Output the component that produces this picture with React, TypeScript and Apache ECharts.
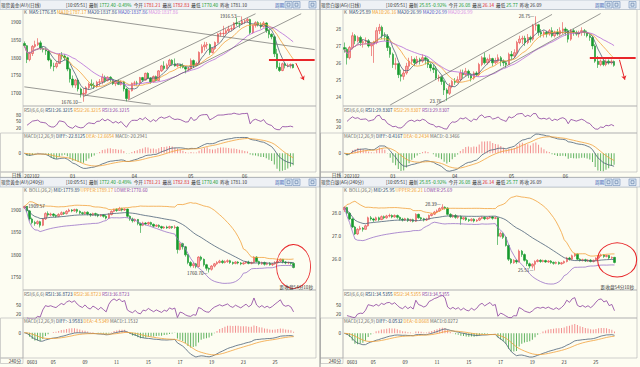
import { useEffect, useRef } from 'react';
import * as echarts from 'echarts';

const FF = '"Noto Sans CJK SC","Noto Sans",sans-serif';
const FS = 4.6;

// ---------- DATA: [open, close, low, high] ----------
const goldDaily = [
[1840,1834,1830,1846],[1834,1795,1785,1836],[1795,1812,1790,1817],[1812,1832,1805,1836],[1832,1837,1828,1848],
[1837,1842,1833,1855],[1842,1826,1822,1848],[1826,1823,1815,1830],[1823,1819,1808,1828],[1819,1794,1790,1822],
[1794,1776,1769,1798],[1776,1775,1762,1786],[1775,1784,1770,1790],[1784,1808,1782,1813],[1808,1805,1795,1816],
[1805,1800,1792,1810],[1800,1768,1762,1803],[1768,1740,1730,1772],[1740,1723,1716,1750],[1723,1737,1715,1740],
[1737,1712,1705,1742],[1712,1698,1688,1716],[1698,1700,1676.1,1714],[1700,1716,1695,1720],[1716,1726,1710,1730],
[1726,1722,1715,1739],[1722,1719,1712,1730],[1719,1731,1715,1735],[1731,1732,1720,1740],[1732,1745,1725,1755],
[1745,1736,1730,1750],[1736,1745,1733,1748],[1745,1738,1732,1748],[1738,1727,1723,1742],[1727,1734,1720,1737],
[1734,1725,1723,1738],[1725,1732,1722,1736],[1732,1712,1705,1735],[1712,1685,1677,1715],[1685,1707,1680,1710],
[1707,1728,1705,1730],[1728,1729,1720,1735],[1729,1728,1722,1735],[1728,1744,1725,1746],[1744,1737,1732,1746],
[1737,1756,1735,1758],[1756,1743,1740,1759],[1743,1732,1727,1745],[1732,1747,1730,1750],[1747,1736,1733,1750],
[1736,1763,1735,1765],[1763,1777,1760,1780],[1777,1770,1765,1790],[1770,1779,1768,1784],[1779,1793,1775,1797],
[1793,1783,1778,1796],[1783,1777,1775,1798],[1777,1780,1773,1785],[1780,1778,1770,1782],[1778,1773,1770,1784],
[1773,1768,1756,1776],[1768,1769,1763,1775],[1769,1792,1767,1798],[1792,1779,1771,1795],[1779,1784,1776,1789],
[1784,1815,1782,1818],[1815,1831,1812,1838],[1831,1836,1820,1845],[1836,1837,1825,1844],[1837,1815,1808,1840],
[1815,1826,1812,1829],[1826,1843,1822,1846],[1843,1867,1840,1869],[1867,1868,1860,1874],[1868,1869,1860,1890],
[1869,1876,1866,1882],[1876,1881,1870,1890],[1881,1882,1875,1889],[1882,1898,1878,1900],[1898,1896,1890,1913],
[1896,1895,1884,1900],[1895,1903,1893,1916.53],[1903,1904,1895,1908],[1904,1908,1898,1912],[1908,1871,1866,1910],
[1871,1891,1868,1893],[1891,1899,1885,1903],[1899,1893,1888,1903],[1893,1888,1882,1900],[1888,1898,1885,1903],
[1898,1877,1870,1900],[1877,1866,1855,1879],[1866,1859,1852,1869],[1859,1811,1802,1862],[1811,1773,1768,1825],
[1773,1764,1760,1786],[1764,1783,1762,1786],[1783,1778,1770,1787],[1778,1779,1773,1784],[1779,1781,1770,1784],
[1781,1772,1770,1783]
];

const silverDaily = [
[26.9,26.8,26.6,27.2],[26.8,26.3,25.9,26.9],[26.3,26.9,26.2,27.0],[26.9,27.6,26.8,27.8],[27.6,27.3,27.1,27.7],
[27.3,27.5,27.2,27.6],[27.5,27.2,27.0,27.6],[27.2,27.25,26.9,27.4],[27.25,27.3,27.1,27.5],[27.3,27.0,26.9,27.4],
[27.0,27.1,26.4,27.2],[27.1,27.2,26.0,27.3],[27.2,27.9,27.1,28.1],[27.9,28.1,27.7,28.3],[28.1,27.6,27.4,28.2],
[27.6,27.55,27.3,27.8],[27.55,26.9,26.7,27.7],[26.9,26.5,26.3,27.0],[26.5,25.9,25.7,26.6],[25.9,25.95,25.6,26.3],
[25.95,25.3,25.1,26.0],[25.3,25.2,24.9,25.6],[25.2,25.4,25.0,25.6],[25.4,25.8,25.3,26.0],[25.8,26.1,25.6,26.3],
[26.1,26.2,25.9,26.4],[26.2,26.0,25.8,26.3],[26.0,26.2,25.9,26.4],[26.2,26.1,25.9,26.3],[26.1,26.3,26.0,26.5],
[26.3,26.2,25.9,26.4],[26.2,25.9,25.7,26.3],[25.9,25.7,25.5,26.0],[25.7,25.6,25.4,25.9],[25.6,25.1,25.0,25.8],
[25.1,25.15,24.9,25.3],[25.15,24.9,24.7,25.2],[24.9,24.4,24.1,25.0],[24.4,24.2,23.76,24.5],[24.2,24.6,24.1,24.8],
[24.6,24.9,24.5,25.0],[24.9,24.85,24.7,25.1],[24.85,25.0,24.8,25.2],[25.0,25.4,24.9,25.6],[25.4,25.3,25.1,25.6],
[25.3,25.5,25.2,25.7],[25.5,25.3,25.1,25.6],[25.3,25.1,24.9,25.4],[25.1,25.4,25.0,25.5],[25.4,25.3,25.2,25.5],
[25.3,25.9,25.2,26.0],[25.9,26.3,25.8,26.4],[26.3,26.0,25.9,26.6],[26.0,26.2,25.9,26.3],[26.2,26.25,26.0,26.5],
[26.25,26.0,25.8,26.3],[26.0,26.1,25.9,26.3],[26.1,26.3,26.0,26.5],[26.3,26.1,25.8,26.4],[26.1,26.0,25.8,26.2],
[26.0,25.9,25.7,26.1],[25.9,26.5,25.9,26.6],[26.5,26.4,26.2,26.7],[26.4,26.6,26.3,26.8],[26.6,27.2,26.5,27.3],
[27.2,27.4,27.1,27.6],[27.4,27.45,27.1,27.6],[27.45,27.2,27.0,27.6],[27.2,27.5,27.1,27.7],[27.5,27.4,27.2,27.6],
[27.4,28.2,27.3,28.3],[28.2,28.25,27.9,28.75],[28.25,27.8,27.6,28.3],[27.8,27.7,27.5,28.0],[27.7,27.8,27.5,27.9],
[27.8,27.7,27.5,27.9],[27.7,27.9,27.6,28.0],[27.9,27.6,27.5,28.1],[27.6,27.8,27.5,27.9],[27.8,27.7,27.6,28.0],
[27.7,27.9,27.6,28.1],[27.9,28.0,27.7,28.4],[28.0,27.9,27.6,28.1],[27.9,27.4,27.2,28.0],[27.4,27.9,27.3,28.0],
[27.9,27.8,27.6,28.0],[27.8,27.7,27.6,27.9],[27.7,27.8,27.5,27.9],[27.8,27.9,27.6,28.1],[27.9,27.8,27.6,28.0],
[27.8,27.6,27.5,27.9],[27.6,27.5,27.3,27.7],[27.5,27.0,26.8,27.6],[27.0,26.1,26.0,27.1],[26.1,25.9,25.7,26.4],
[25.9,26.1,25.8,26.2],[26.1,25.9,25.8,26.2],[25.9,26.1,25.8,26.2],[26.1,26.0,25.9,26.2],[26.0,26.09,25.9,26.2],
[26.08,25.85,25.77,26.14]
];

const gold4h = [
[1905,1908,1902,1909.57],[1908,1898,1895,1909],[1898,1880,1876,1900],[1880,1872,1868,1883],[1872,1870,1865,1876],
[1870,1874,1867,1877],[1874,1866,1861,1876],[1866,1880,1864,1882],[1880,1892,1878,1895],[1892,1889,1885,1897],
[1889,1891,1886,1894],[1891,1888,1884,1893],[1888,1886,1883,1890],[1886,1890,1884,1893],[1890,1894,1888,1897],
[1894,1892,1889,1896],[1892,1897,1890,1900],[1897,1900,1895,1903],[1900,1898,1895,1902],[1898,1901,1896,1903],
[1901,1897,1893,1903],[1897,1894,1890,1899],[1894,1892,1889,1896],[1892,1895,1890,1897],[1895,1891,1888,1897],
[1891,1889,1885,1893],[1889,1892,1887,1894],[1892,1890,1886,1894],[1890,1887,1884,1892],[1887,1889,1885,1891],
[1889,1886,1883,1891],[1886,1882,1879,1889],[1882,1890,1880,1893],[1890,1897,1888,1899],[1897,1901,1895,1903],
[1901,1899,1896,1904],[1899,1903,1898,1907],[1903,1900,1897,1905],[1900,1902,1898,1904],[1902,1886,1883,1903],
[1886,1880,1876,1888],[1880,1876,1872,1883],[1876,1879,1873,1881],[1879,1870,1866,1880],[1870,1866,1849,1872],
[1866,1871,1864,1874],[1871,1869,1866,1873],[1869,1872,1866,1874],[1872,1868,1865,1874],[1868,1864,1861,1870],
[1864,1866,1862,1868],[1866,1863,1860,1868],[1863,1860,1857,1865],[1860,1862,1858,1864],[1862,1860,1858,1865],
[1860,1863,1858,1865],[1863,1861,1858,1864],[1861,1862,1858,1866],[1862,1812,1803,1864],[1812,1825,1810,1828],
[1825,1818,1812,1827],[1818,1800,1796,1820],[1800,1783,1779,1802],[1783,1776,1772,1786],[1776,1780,1771,1783],
[1780,1774,1770,1782],[1774,1795,1772,1797],[1795,1790,1786,1798],[1790,1778,1774,1792],[1778,1770,1765,1780],
[1770,1768,1760.7,1772],[1768,1775,1765,1777],[1775,1780,1772,1782],[1780,1783,1778,1786],[1783,1786,1781,1789],
[1786,1783,1780,1789],[1783,1785,1781,1788],[1785,1787,1782,1790],[1787,1783,1780,1789],[1783,1781,1778,1785],
[1781,1784,1779,1786],[1784,1782,1779,1786],[1782,1780,1777,1784],[1780,1782,1778,1784],[1782,1784,1780,1786],
[1784,1781,1779,1787],[1781,1783,1779,1785],[1783,1795,1781,1797],[1795,1785,1783,1797],[1785,1780,1777,1787],
[1780,1783,1778,1785],[1783,1779,1776,1785],[1779,1781,1777,1783],[1781,1778,1776,1784],[1778,1780,1775,1782],
[1780,1783,1778,1786],[1783,1786,1781,1789],[1786,1790,1784,1792],[1790,1784,1781,1791],[1784,1782,1779,1786],
[1782,1783,1779,1785],[1783,1781,1778,1784],[1781,1772,1770,1783]
];

const silver4h = [
[28.15,28.25,28.05,28.3],[28.25,28.0,27.95,28.28],[28.0,27.75,27.7,28.05],[27.75,27.4,27.35,27.8],[27.4,27.1,27.05,27.45],
[27.1,27.3,27.05,27.35],[27.3,27.35,27.25,27.45],[27.35,27.3,27.2,27.4],[27.3,27.45,27.28,27.5],[27.45,27.8,27.42,27.85],
[27.8,27.75,27.68,27.88],[27.75,27.7,27.62,27.8],[27.7,27.8,27.66,27.85],[27.8,27.72,27.65,27.85],[27.72,27.85,27.7,27.9],
[27.85,27.8,27.74,27.9],[27.8,27.88,27.76,27.93],[27.88,27.9,27.82,27.98],[27.9,27.84,27.78,27.95],[27.84,27.9,27.8,27.95],
[27.9,27.82,27.76,27.94],[27.82,27.74,27.68,27.86],[27.74,27.7,27.64,27.8],[27.7,27.76,27.66,27.8],[27.76,27.68,27.62,27.8],
[27.68,27.72,27.62,27.76],[27.72,27.65,27.6,27.76],[27.65,27.95,27.62,28.0],[27.95,27.8,27.76,27.98],[27.8,27.76,27.7,27.84],
[27.76,27.7,27.64,27.8],[27.7,27.74,27.66,27.8],[27.74,27.9,27.72,27.94],[27.9,27.96,27.86,28.02],[27.96,28.05,27.92,28.1],
[28.05,28.1,28.0,28.16],[28.1,28.2,28.06,28.25],[28.2,28.26,28.14,28.39],[28.26,28.22,28.16,28.3],[28.22,27.95,27.9,28.26],
[27.95,27.85,27.8,28.0],[27.85,27.9,27.8,27.95],[27.9,27.82,27.76,27.96],[27.82,27.86,27.76,27.9],[27.86,27.75,27.5,27.9],
[27.75,27.8,27.7,27.85],[27.8,27.72,27.66,27.84],[27.72,27.68,27.62,27.76],[27.68,27.74,27.64,27.78],[27.74,27.66,27.6,27.78],
[27.66,27.7,27.62,27.74],[27.7,27.78,27.66,27.82],[27.78,27.82,27.74,27.86],[27.82,27.76,27.7,27.86],[27.76,27.8,27.72,27.84],
[27.8,27.84,27.76,27.88],[27.84,27.78,27.72,27.88],[27.78,27.8,27.74,27.85],[27.8,27.0,26.62,27.82],[27.0,27.12,26.95,27.2],
[27.12,26.95,26.88,27.16],[26.95,26.6,26.55,27.0],[26.6,26.0,25.92,26.65],[26.0,25.85,25.78,26.05],[25.85,25.95,25.8,26.0],
[25.95,25.88,25.8,26.0],[25.88,26.35,25.86,26.42],[26.35,26.2,26.1,26.4],[26.2,25.95,25.9,26.25],[25.95,25.8,25.7,26.0],
[25.8,25.7,25.6,25.85],[25.7,25.78,25.6,25.82],[25.78,25.9,25.51,25.95],[25.9,25.95,25.86,26.0],[25.95,25.9,25.84,26.0],
[25.9,25.94,25.86,25.98],[25.94,25.88,25.84,25.98],[25.88,25.92,25.84,25.96],[25.92,25.86,25.8,25.96],[25.86,25.82,25.76,25.9],
[25.82,25.86,25.78,25.9],[25.86,25.8,25.76,25.9],[25.8,25.84,25.76,25.88],[25.84,25.9,25.8,25.94],[25.9,26.05,25.86,26.1],
[26.05,26.0,25.94,26.1],[26.0,26.15,25.96,26.2],[26.15,26.22,26.1,26.28],[26.22,26.0,25.95,26.25],[26.0,25.94,25.9,26.04],
[25.94,25.98,25.9,26.02],[25.98,25.92,25.88,26.02],[25.92,25.96,25.88,26.0],[25.96,25.9,25.86,26.0],[25.9,25.95,25.86,25.98],
[25.95,26.05,25.92,26.08],[26.05,26.15,26.02,26.2],[26.15,26.18,26.1,26.24],[26.18,26.12,26.06,26.22],[26.12,26.16,26.08,26.2],
[26.16,26.05,26.0,26.18],[26.05,26.08,26.0,26.12],[26.08,25.86,25.82,26.1]
];

// tick labels of the time axes
const dailyTickLabels = ['202102', '03', '04', '05', '06'];
const dailyTickPos = [0, 17, 40, 61, 81];
const h4TickLabels = ['0603', '05', '09', '11', '15', '17', '19', '23', '25'];
const h4TickPos = [1, 10, 22, 34, 46, 58, 70, 82, 94];

// price-axis tick labels
const goldDailyTicks = [1700, 1750, 1800, 1850, 1900];
const silverDailyTicks = [24, 25, 26, 27, 28];
const gold4hTicks = [1750, 1800, 1850, 1900];
const silver4hTicks = [26, 27, 28];

// ---------- indicators ----------
function calcMA(c: number[], n: number) {
  return c.map((_, i) => {
    const s = Math.max(0, i - n + 1);
    let t = 0;
    for (let k = s; k <= i; k++) t += c[k];
    return t / (i - s + 1);
  });
}
function calcBoll(c: number[], n: number, m: number) {
  const mid = calcMA(c, n);
  const up: number[] = [], lo: number[] = [];
  c.forEach((_, i) => {
    const s = Math.max(0, i - n + 1);
    let v = 0;
    for (let k = s; k <= i; k++) v += (c[k] - mid[i]) ** 2;
    const sd = Math.sqrt(v / (i - s + 1));
    up.push(mid[i] + m * sd);
    lo.push(mid[i] - m * sd);
  });
  return { mid, up, lo };
}
function calcRSI(c: number[], n: number) {
  const out: (number | null)[] = [null];
  const k0 = Math.min(n, c.length - 1);
  let up = 0, ab = 0;
  for (let i = 1; i <= k0; i++) { const d = c[i] - c[i - 1]; up += Math.max(d, 0); ab += Math.abs(d); }
  up /= k0; ab /= k0;
  for (let i = 1; i < c.length; i++) {
    const d = c[i] - c[i - 1];
    up = (Math.max(d, 0) + (n - 1) * up) / n;
    ab = (Math.abs(d) + (n - 1) * ab) / n;
    out.push(ab === 0 ? 50 : (up / ab) * 100);
  }
  return out;
}
function calcMACD(c: number[]) {
  let e12 = c[0], e26 = c[0], dea = 0;
  const diff: number[] = [], deaA: number[] = [], hist: number[] = [];
  c.forEach((v) => {
    e12 = (e12 * 11 + v * 2) / 13;
    e26 = (e26 * 25 + v * 2) / 27;
    const d = e12 - e26;
    dea = (dea * 8 + d * 2) / 10;
    diff.push(d); deaA.push(dea); hist.push(2 * (d - dea));
  });
  return { diff, dea: deaA, hist };
}

// ---------- styling ----------
const C_MA5 = '#4d6278';
const C_MA10 = '#f2a23c';
const C_MA20 = '#b56ad8';
const C_LOW = '#9a72c8';
const C_RSI = '#8a3f9e';
const C_UP = '#f6aaaa';
const C_UPB = '#e54848';
const C_DN = '#169a2c';
const C_HP = '#f39191';
const C_HN = '#62b462';
const RED = '#e8262a';

const RICH: any = {};
const richColors: any = { n: '#333', g: '#119a2a', r: '#e02020', k: '#666', m1: '#22406e', m2: '#f09a28', m3: '#2e4a86', m4: '#4a52c8', m5: '#d58be6', p: '#8a3fa8', b: '#2a58b0' };
Object.keys(richColors).forEach((k) => { RICH[k] = { fill: richColors[k], fontSize: FS, fontFamily: FF }; });

function rtext(x: number, y: number, text: string, align = 'left') {
  return { type: 'text', x, y, silent: true, z: 10, style: { text, rich: RICH, fontSize: FS, fontFamily: FF, fill: '#333', align, verticalAlign: 'middle' } };
}

type Panel = any;

const PANELS: Panel[] = [
  {
    bars: goldDaily, x0: 0, y0: 0, plotL: 23, plotW: 293, slots: 109,
    cTop: 9.5, cH: 96.5, rTop: 106, rH: 27, mTop: 133, mH: 39,
    yMin: 1664, yMax: 1936, yTicks: goldDailyTicks, yDec: 0,
    rMin: -5, rMax: 122.5, rTicks: [20, 50, 80], zeroAbove: 20.3 / 39,
    mode: 'ma', tickPos: dailyTickPos, tickLabels: dailyTickLabels, period: '日线',
    title: '现货黄金(AU)(日线)',
    quote: '{n|[10:05:51]}  {n|最新} {g|1772.40} {g|-0.49%}  {n|今开} {r|1781.21}  {n|最高} {r|1782.83}  {n|最低} {g|1770.40}  {n|昨收} {n|1781.10}',
    legend: '{k|K}  {m1|MA5:1776.85} {m2|MA10:1787.17} {m3|MA20:1837.86} {m4|MA20:1837.86} {m5|MA20:1837.86}',
    rsiLegend: '{k|RSI(6,6,6)} {m1|RSI1:26.3215} {m2|RSI2:26.3215} {p|RSI3:26.3215}',
    macdLegend: '{k|MACD(12,26,9)} {m1|DIFF:-22.8125} {m2|DEA:-12.6654} {k|MACD:-20.2941}',
    trend: [[[13, 1925], [108, 1823]], [[0, 1718], [47, 1669]], [[22, 1690.6], [86, 1924]], [[39, 1682], [103, 1924]]],
    redLine: [[91, 1794], [108, 1794]], arrow: [[101, 1785], [104, 1737]],
    notes: [[81, 1916.53, '1916.53—', 'left'], [22, 1676.1, '1676.10—', 'left']],
    circle: null,
  },
  {
    bars: silverDaily, x0: 320, y0: 0, plotL: 343, plotW: 294, slots: 109,
    cTop: 9.5, cH: 96.5, rTop: 106, rH: 27, mTop: 133, mH: 39,
    yMin: 23.45, yMax: 29.15, yTicks: silverDailyTicks, yDec: 0,
    rMin: -6, rMax: 117, rTicks: [20, 50], zeroAbove: 20.3 / 39,
    mode: 'ma', tickPos: dailyTickPos, tickLabels: dailyTickLabels, period: '日线',
    title: '现货白银(AG)(日线)',
    quote: '{n|[10:05:51]}  {n|最新} {g|25.85} {g|-0.92%}  {n|今开} {g|26.08}  {n|最高} {r|26.14}  {n|最低} {g|25.77}  {n|昨收} {n|26.09}',
    legend: '{k|K}  {m1|MA5:25.89} {m2|MA10:26.16} {m3|MA20:26.99} {m4|MA20:26.99} {m5|MA20:26.99}',
    rsiLegend: '{k|RSI(6,6,6)} {m1|RSI1:29.8307} {m2|RSI2:29.8307} {p|RSI3:29.8307}',
    macdLegend: '{k|MACD(12,26,9)} {m1|DIFF:-0.4167} {m2|DEA:-0.2434} {k|MACD:-0.3466}',
    trend: [[[17, 23.51], [77, 28.86]], [[34, 23.5], [95, 28.91]]],
    redLine: [[91, 26.31], [108, 26.31]], arrow: [[102, 26.18], [104, 25.0]],
    notes: [[71, 28.75, '28.75—', 'left'], [38, 23.76, '23.76—', 'left']],
    circle: null,
  },
  {
    bars: gold4h, x0: 0, y0: 177.5, plotL: 23, plotW: 293, slots: 111,
    cTop: 187, cH: 103, rTop: 290, rH: 28, mTop: 318, mH: 40,
    yMin: 1721.7, yMax: 1951.3, yTicks: gold4hTicks, yDec: 0,
    rMin: 6.7, rMax: 100, rTicks: [20, 50], zeroAbove: 14.7 / 40,
    mode: 'boll', tickPos: h4TickPos, tickLabels: h4TickLabels, period: '240分',
    title: '现货黄金(AU)(240分)',
    quote: '{n|[10:05:51]}  {n|最新} {g|1772.40} {g|-0.49%}  {n|今开} {r|1781.21}  {n|最高} {r|1782.83}  {n|最低} {g|1770.40}  {n|昨收} {n|1781.10}',
    legend: '{k|K}  {k|BOLL(26,2)} {m1|MID:1779.89} {m2|UPPER:1789.17} {p|LOWER:1770.60}',
    rsiLegend: '{k|RSI(6,6,6)} {m1|RSI1:36.8723} {m2|RSI2:36.8723} {p|RSI3:36.8723}',
    macdLegend: '{k|MACD(12,26,9)} {m1|DIFF:-3.9583} {m2|DEA:-4.5349} {k|MACD:1.1532}',
    trend: [], redLine: null, arrow: null,
    notes: [[0, 1909.57, '–1909.57', 'right'], [70, 1760.7, '1760.70—', 'left']],
    circle: [102, 1774, [34, 44]],
  },
  {
    bars: silver4h, x0: 320, y0: 177.5, plotL: 343, plotW: 294, slots: 111,
    cTop: 187, cH: 103, rTop: 290, rH: 28, mTop: 318, mH: 40,
    yMin: 24.66, yMax: 29.14, yTicks: silver4hTicks, yDec: 1,
    rMin: 6.7, rMax: 100, rTicks: [20, 50], zeroAbove: 15.3 / 40,
    mode: 'boll', tickPos: h4TickPos, tickLabels: h4TickLabels, period: '240分',
    title: '现货白银(AG)(240分)',
    quote: '{n|[10:05:51]}  {n|最新} {g|25.85} {g|-0.92%}  {n|今开} {g|26.08}  {n|最高} {r|26.14}  {n|最低} {g|25.77}  {n|昨收} {n|26.09}',
    legend: '{k|K}  {k|BOLL(26,2)} {m1|MID:25.95} {m2|UPPER:26.21} {p|LOWER:25.69}',
    rsiLegend: '{k|RSI(6,6,6)} {m1|RSI1:34.5355} {m2|RSI2:34.5355} {p|RSI3:34.5355}',
    macdLegend: '{k|MACD(12,26,9)} {m1|DIFF:-0.0532} {m2|DEA:-0.0668} {k|MACD:0.0272}',
    trend: [], redLine: null, arrow: null,
    notes: [[37, 28.39, '28.39—', 'left'], [72, 25.51, '25.51—', 'left']],
    circle: [103, 25.97, [39, 34]],
  },
];

function buildOption() {
  const grid: any[] = [], xAxis: any[] = [], yAxis: any[] = [], series: any[] = [], graphic: any[] = [];
  const axLabel = { fontSize: FS, color: '#333', fontFamily: FF };

  PANELS.forEach((p, pi) => {
    const g = pi * 3;
    const closes = p.bars.map((b: number[]) => b[1]);
    const cats = Array.from({ length: p.slots }, (_, i) => 'c' + i);
    const tickMap: any = {};
    p.tickPos.forEach((pos: number, k: number) => { tickMap[pos] = p.tickLabels[k]; });

    const tops = [p.cTop, p.rTop, p.mTop];
    const hs = [p.cH, p.rH, p.mH];
    for (let k = 0; k < 3; k++) {
      grid.push({ left: p.plotL, top: tops[k], width: p.plotW, height: hs[k], show: true, borderColor: '#b4b4b4', borderWidth: 0.6, backgroundColor: 'transparent' });
      xAxis.push({
        type: 'category', gridIndex: g + k, data: cats, boundaryGap: true,
        axisLine: { show: false }, axisTick: { show: false }, splitLine: { show: false },
        axisLabel: k === 2 ? {
          show: true, ...axLabel, align: 'left', margin: 2,
          interval: (idx: number) => tickMap[idx] !== undefined,
          formatter: (_v: string, idx: number) => tickMap[idx] || '',
        } : { show: false },
      });
    }
    // price axis
    yAxis.push({
      type: 'value', gridIndex: g, min: p.yMin, max: p.yMax,
      axisLine: { show: false }, axisTick: { show: false }, splitLine: { show: false },
      axisLabel: { ...axLabel, margin: 2, customValues: p.yTicks, formatter: (v: number) => v.toFixed(p.yDec) },
    });
    // rsi axis
    yAxis.push({
      type: 'value', gridIndex: g + 1, min: p.rMin, max: p.rMax,
      axisLine: { show: false }, axisTick: { show: false }, splitLine: { show: false },
      axisLabel: { ...axLabel, margin: 2, customValues: p.rTicks, formatter: (v: number) => String(v) },
    });
    // macd axis
    const m = calcMACD(closes);
    let pos = 0, neg = 0;
    [m.diff, m.dea, m.hist].forEach((arr) => arr.forEach((v) => { pos = Math.max(pos, v); neg = Math.max(neg, -v); }));
    const za = p.zeroAbove;
    const s = Math.max(pos / za, neg / (1 - za)) * 1.04;
    yAxis.push({
      type: 'value', gridIndex: g + 2, min: -s * (1 - za), max: s * za,
      axisLine: { show: false }, axisTick: { show: false }, splitLine: { show: false },
      axisLabel: { ...axLabel, margin: 2, customValues: [0], formatter: () => '0' },
    });

    // candles with annotations
    const mlData: any[] = p.trend.map((t: number[][]) => [{ coord: t[0] }, { coord: t[1] }]);
    if (p.redLine) mlData.push([{ coord: p.redLine[0], lineStyle: { color: RED, width: 2 } }, { coord: p.redLine[1] }]);
    if (p.arrow) mlData.push([{ coord: p.arrow[0], lineStyle: { color: RED, width: 1 } }, { coord: p.arrow[1], symbol: 'arrow', symbolSize: 4 }]);
    const mpData: any[] = p.notes.map((n: any[]) => ({
      coord: [n[0], n[1]], symbol: 'circle', symbolSize: 1, itemStyle: { color: 'rgba(0,0,0,0)' },
      label: { show: true, position: n[3], distance: 1, formatter: n[2], fontSize: FS, color: '#333', fontFamily: FF },
    }));
    if (p.circle) mpData.push({
      coord: [p.circle[0], p.circle[1]], symbol: 'circle', symbolSize: p.circle[2],
      itemStyle: { color: 'rgba(0,0,0,0)', borderColor: RED, borderWidth: 1 }, label: { show: false },
    });
    series.push({
      type: 'candlestick', xAxisIndex: g, yAxisIndex: g, data: p.bars, barWidth: 2, silent: true,
      itemStyle: { color: C_UP, borderColor: C_UPB, color0: C_DN, borderColor0: C_DN, borderWidth: 0.6 },
      markLine: { silent: true, symbol: ['none', 'none'], label: { show: false }, lineStyle: { color: '#555', width: 0.6, type: 'solid' }, data: mlData },
      markPoint: { silent: true, data: mpData },
    });
    const line = (xi: number, data: any[], color: string, w = 0.8) => ({
      type: 'line', xAxisIndex: xi, yAxisIndex: xi, data, showSymbol: false, symbol: 'none', silent: true,
      lineStyle: { color, width: w },
    });
    if (p.mode === 'ma') {
      series.push(line(g, calcMA(closes, 5), C_MA5));
      series.push(line(g, calcMA(closes, 10), C_MA10));
      series.push(line(g, calcMA(closes, 20), C_MA20));
    } else {
      const b = calcBoll(closes, 26, 2);
      series.push(line(g, b.mid, C_MA5));
      series.push(line(g, b.up, C_MA10));
      series.push(line(g, b.lo, C_LOW));
    }
    series.push(line(g + 1, calcRSI(closes, 6), C_RSI));
    series.push({
      type: 'bar', xAxisIndex: g + 2, yAxisIndex: g + 2, barWidth: 1, silent: true,
      data: m.hist.map((v) => ({ value: v, itemStyle: { color: v >= 0 ? C_HP : C_HN } })),
    });
    series.push(line(g + 2, m.diff, C_MA5));
    series.push(line(g + 2, m.dea, C_MA10));

    // ---- static graphics ----
    const x0 = p.x0, y0 = p.y0;
    graphic.push({ type: 'rect', silent: true, shape: { x: x0, y: y0, width: 320, height: 9.5 }, style: { fill: '#eef1f5', stroke: '#a9b5c3', lineWidth: 0.6 } });
    graphic.push(rtext(x0 + 1, y0 + 4.8, '{n|' + p.title + '}'));
    graphic.push(rtext(x0 + 66, y0 + 4.8, p.quote));
    graphic.push(rtext(x0 + 275, y0 + 4.8, '{b|周期}'));
    [285, 293, 309].forEach((bx) => {
      graphic.push({ type: 'rect', silent: true, shape: { x: x0 + bx, y: y0 + 1.5, width: 7, height: 6.5 }, style: { fill: '#dce7f3', stroke: '#6f8fb8', lineWidth: 0.6 } });
      graphic.push({ type: 'rect', silent: true, shape: { x: x0 + bx + 2, y: y0 + 3.2, width: 3, height: 3 }, style: { fill: 'none', stroke: '#3d5f90', lineWidth: 0.5 } });
    });
    graphic.push(rtext(p.plotL + 1, p.cTop + 2.6, p.legend));
    graphic.push(rtext(p.plotL + 1, p.rTop + 4, p.rsiLegend));
    graphic.push(rtext(p.plotL + 1, p.mTop + 3.2, p.macdLegend));
    graphic.push({ type: 'rect', silent: true, shape: { x: x0 + 0.5, y: p.mTop, width: p.plotL - x0 - 0.5, height: p.mH }, style: { fill: 'none', stroke: '#b4b4b4', lineWidth: 0.6 } });
    graphic.push({ type: 'rect', silent: true, shape: { x: x0 + 0.5, y: p.mTop + p.mH, width: p.plotL - x0 - 0.5, height: 5.5 }, style: { fill: 'none', stroke: '#b4b4b4', lineWidth: 0.6 } });
    graphic.push(rtext(p.plotL - 2, p.mTop + p.mH + 2.9, '{n|' + p.period + '}', 'right'));
    if (p.mode === 'boll') graphic.push(rtext(p.plotL + p.plotW - 3, p.rTop - 3, '{n|距收盘54分10秒}', 'right'));
  });

  graphic.push({ type: 'line', silent: true, shape: { x1: 320, y1: 0, x2: 320, y2: 367 }, style: { stroke: '#8e8e8e', lineWidth: 1 } });
  graphic.push({ type: 'line', silent: true, shape: { x1: 0, y1: 177.3, x2: 640, y2: 177.3 }, style: { stroke: '#a0a0a0', lineWidth: 0.6 } });

  return { animation: false, backgroundColor: '#fdfdf2', grid, xAxis, yAxis, series, graphic };
}

export default function App() {
  const ref = useRef<HTMLDivElement>(null);
  useEffect(() => {
    if (!ref.current) return;
    const chart = echarts.init(ref.current, undefined, { renderer: 'svg' });
    chart.setOption(buildOption() as any);
    return () => chart.dispose();
  }, []);
  return <div ref={ref} style={{ position: 'fixed', left: 0, top: 0, width: 640, height: 367 }} />;
}
